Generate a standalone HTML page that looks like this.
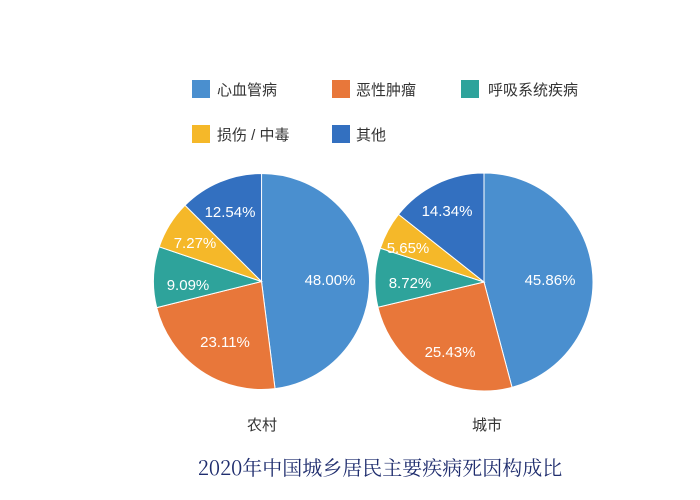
<!DOCTYPE html>
<html><head><meta charset="utf-8"><style>
html,body{margin:0;padding:0;background:#fff;width:700px;height:500px;overflow:hidden}
</style></head><body>
<svg id="s" width="700" height="500" xmlns="http://www.w3.org/2000/svg" font-family="Liberation Sans, Noto Sans CJK SC, sans-serif">
<rect width="700" height="500" fill="#fff"/>
<g font-size="15" fill="#333">
<rect x="192" y="80" width="18" height="18" fill="#4a8fcf"/><text x="217" y="95">心血管病</text>
<rect x="332" y="80" width="18" height="18" fill="#e8773a"/><text x="356" y="95">恶性肿瘤</text>
<rect x="461" y="80" width="18" height="18" fill="#2ea39b"/><text x="488" y="95">呼吸系统疾病</text>
<rect x="192" y="125" width="18" height="18" fill="#f5b829"/><text x="217" y="140">损伤 / 中毒</text>
<rect x="332" y="125" width="18" height="18" fill="#3370c0"/><text x="356" y="140">其他</text>
</g>
<g id="pies"></g>
<text x="262" y="430" font-size="15" fill="#333" text-anchor="middle">农村</text>
<text x="487" y="430" font-size="15" fill="#333" text-anchor="middle">城市</text>
<text x="380" y="475" font-size="20" fill="#1f2d6e" text-anchor="middle" font-family="Noto Serif CJK SC, Liberation Serif, serif">2020年中国城乡居民主要疾病死因构成比</text>
</svg>
<script>
var cols=["#4a8fcf","#e8773a","#2ea39b","#f5b829","#3370c0"];
function pie(cx,cy,r,vals,pos){
 var g=document.getElementById("pies"),a=0,out="";
 vals.forEach(function(v,i){
  var a0=a,a1=a+v/100*2*Math.PI;a=a1;
  var x0=cx+r*Math.sin(a0),y0=cy-r*Math.cos(a0),x1=cx+r*Math.sin(a1),y1=cy-r*Math.cos(a1);
  var big=(a1-a0)>Math.PI?1:0;
  out+='<path d="M'+cx+','+cy+' L'+x0+','+y0+' A'+r+','+r+' 0 '+big+' 1 '+x1+','+y1+' Z" fill="'+cols[i]+'" stroke="#fff" stroke-width="1"/>';
  out+='<text x="'+pos[i][0]+'" y="'+(pos[i][1]+5)+'" font-size="15" fill="#fff" text-anchor="middle">'+v.toFixed(2)+'%</text>';
 });
 g.innerHTML+=out;
}
pie(261.5,281.5,108,[48.00,23.11,9.09,7.27,12.54],[[330,280],[225,342],[188,285],[195,243],[230,212]]);
pie(484,282,109,[45.86,25.43,8.72,5.65,14.34],[[550,280],[450,352],[410,283],[408,248],[447,211]]);
</script>
</body></html>
